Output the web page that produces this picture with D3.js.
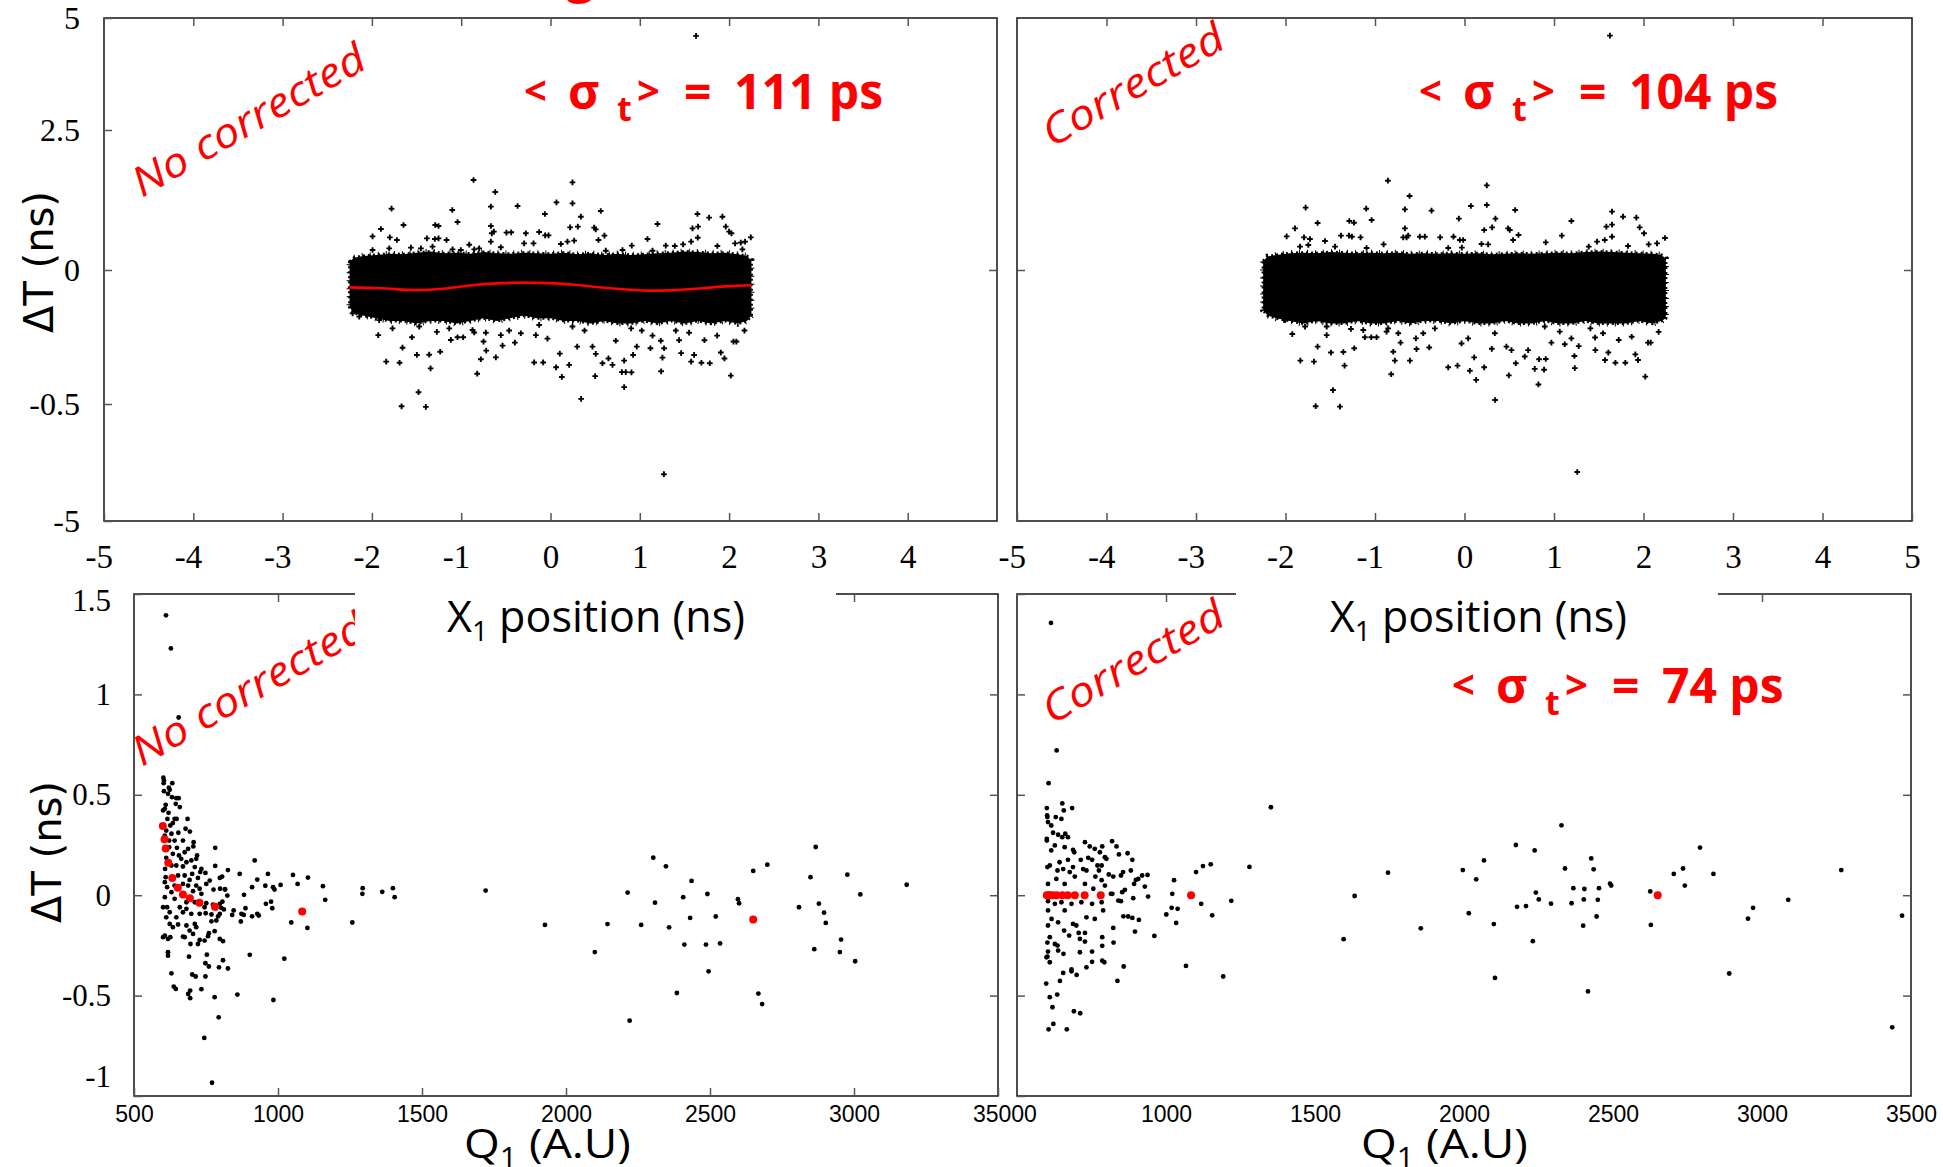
<!DOCTYPE html>
<html><head><meta charset="utf-8">
<script src="https://cdn.jsdelivr.net/npm/d3@7"></script>
<style>html,body{margin:0;padding:0;background:#fff;} svg{display:block;}</style>
</head><body>
<script>
// ---------------- DATA ----------------
const xTicksTop = [-5,-4,-3,-2,-1,0,1,2,3,4,5];
const xLabelsTopLeft = [-5,-4,-3,-2,-1,0,1,2,3,4];
const yTicksTop = [5,2.5,0,-0.5,-5];
const qTicks = [500,1000,1500,2000,2500,3000,3500];
const dtTicksBottom = [1.5,1,0.5,0,-0.5,-1];

// dense band (core envelope) of X1 position vs dT, top panels
const bandX = [-2.25,-2.2,-2.1,-1.95,-1.8,-1.65,-1.5,-1.35,-1.2,-1.05,-0.9,-0.75,-0.6,-0.45,-0.3,-0.15,0,0.15,0.3,0.45,0.6,0.75,0.9,1.05,1.2,1.35,1.5,1.65,1.8,1.95,2.1,2.2,2.25];
const bandTopNC = [0.15,0.22,0.25,0.27,0.29,0.28,0.31,0.33,0.3,0.31,0.29,0.32,0.3,0.29,0.31,0.3,0.29,0.31,0.28,0.3,0.27,0.29,0.27,0.28,0.3,0.31,0.33,0.32,0.3,0.31,0.28,0.25,0.17];
const bandBotNC = [-0.14,-0.16,-0.17,-0.18,-0.19,-0.19,-0.2,-0.19,-0.19,-0.2,-0.19,-0.18,-0.19,-0.18,-0.17,-0.18,-0.18,-0.19,-0.19,-0.2,-0.19,-0.2,-0.2,-0.19,-0.2,-0.19,-0.2,-0.19,-0.2,-0.19,-0.2,-0.19,-0.17];
const bandTopC = [0.16,0.24,0.27,0.3,0.31,0.3,0.32,0.31,0.3,0.31,0.3,0.31,0.29,0.3,0.29,0.3,0.29,0.3,0.28,0.29,0.3,0.29,0.3,0.31,0.3,0.32,0.33,0.32,0.31,0.3,0.29,0.27,0.2];
const bandBotC = [-0.15,-0.17,-0.18,-0.19,-0.2,-0.19,-0.2,-0.2,-0.19,-0.2,-0.2,-0.19,-0.2,-0.19,-0.19,-0.2,-0.19,-0.2,-0.2,-0.19,-0.2,-0.2,-0.19,-0.2,-0.2,-0.19,-0.2,-0.2,-0.2,-0.19,-0.2,-0.19,-0.18];

// red fit curve (uncorrected)
const fitX = [-2.25,-1.9,-1.5,-1.2,-0.9,-0.6,-0.3,0,0.3,0.6,0.9,1.1,1.4,1.7,2.0,2.25];
const fitY = [-0.065,-0.068,-0.075,-0.07,-0.058,-0.05,-0.047,-0.049,-0.056,-0.066,-0.074,-0.077,-0.075,-0.068,-0.06,-0.057];

// sparse events outside the dense band: [X1, dT]
const outNC = [[-0.862,1.607],[-0.619,1.393],[0.246,1.565],[0.067,1.208],[0.246,1.19],[-0.369,1.143],[-1.78,1.095],[-1.10,1.071],[0.34,0.952],[0.563,1.054],[-0.063,1.0],[-1.646,0.804],[-1.041,0.857],[-1.291,0.804],[-1.254,0.786],[-0.668,1.131],[-0.668,0.786],[-1.899,0.732],[0.489,0.756],[0.507,0.726],[0.22,0.762],[0.306,0.774],[1.198,0.821],[1.646,1.0],[1.776,0.935],[1.925,0.952],[1.59,0.744],[1.653,0.774],[1.963,0.774],[2.0,0.685],[2.026,0.655],[2.243,0.583],[1.649,0.577],[-1.993,0.601],[-1.799,0.583],[-1.72,0.536],[-1.384,0.565],[-1.295,0.554],[-1.254,0.565],[-1.164,0.536],[-0.657,0.655],[-0.634,0.685],[-0.493,0.667],[-0.44,0.673],[-0.276,0.655],[-0.127,0.679],[-0.06,0.619],[-0.022,0.619],[0.19,0.506],[0.265,0.524],[0.604,0.613],[0.537,0.536],[1.086,0.554],[0.91,0.435],[2.179,0.506],[2.067,0.476],[1.575,0.506],[1.485,0.458],[1.392,0.429],[-0.91,0.452],[-0.668,0.506],[-0.556,0.405],[-0.295,0.476],[-0.19,0.476],[0.116,0.464],[0.619,0.345],[0.806,0.357],[1.142,0.345],[1.291,0.435],[1.869,0.429],[2.149,0.369],[2.131,0.488],[-1.563,0.399],[-1.451,0.387],[-1.321,0.417],[-1.097,0.369],[-1.004,0.357],[-0.854,0.369],[-1.806,0.387],[-1.993,0.357],[-0.799,0.387],[1.63,4.6],
[-1.929,-0.243],[-1.84,-0.342],[-1.69,-0.346],[-1.496,-0.317],[-1.358,-0.316],[-1.343,-0.367],[-1.552,-0.251],[-1.657,-0.29],[-1.478,-0.456],[-1.668,-0.588],[-1.396,-0.609],[-1.272,-0.231],[-1.235,-0.305],[-1.116,-0.261],[-1.041,-0.251],[-0.978,-0.251],[-0.854,-0.233],[-0.821,-0.387],[-0.78,-0.333],[-0.75,-0.267],[-0.72,-0.301],[-0.612,-0.326],[-0.537,-0.282],[-0.556,-0.243],[-0.399,-0.271],[-0.164,-0.243],[-0.034,-0.256],[-0.183,-0.345],[-0.082,-0.345],[0.063,-0.363],[0.127,-0.399],[0.104,-0.312],[0.209,-0.354],[0.299,-0.286],[0.343,-0.481],[0.381,-0.226],[0.47,-0.286],[0.507,-0.313],[0.5,-0.396],[0.582,-0.348],[0.649,-0.33],[0.694,-0.354],[0.731,-0.264],[0.825,-0.338],[0.799,-0.381],[0.843,-0.381],[0.907,-0.382],[0.825,-0.437],[0.925,-0.317],[0.966,-0.286],[1.119,-0.292],[1.142,-0.245],[1.235,-0.264],[1.254,-0.327],[1.239,-0.378],[1.272,-0.292],[1.44,-0.262],[1.463,-0.31],[1.575,-0.342],[1.608,-0.317],[1.69,-0.346],[1.784,-0.348],[1.724,-0.262],[1.907,-0.308],[1.948,-0.33],[2.019,-0.394],[2.049,-0.267],[2.082,-0.267],[2.172,-0.226],[1.866,-0.245],[1.552,-0.234],[1.403,-0.226],[1.022,-0.226],[0.903,-0.218],[0.246,-0.211],[-0.127,-0.205],[-0.332,-0.236],[-0.463,-0.226],[-0.724,-0.234],[-0.873,-0.224],[-1.134,-0.218],[-1.47,-0.211],[-1.769,-0.218],[-1.918,-0.187],[-2.142,-0.174],[-2.216,-0.162],[1.27,-3.2]];

const outC = [[-0.856,1.595],[-0.614,1.321],[0.249,1.512],[0.071,1.143],[0.249,1.161],[-0.368,1.06],[-1.775,1.113],[-1.098,1.095],[0.346,0.917],[0.566,1.071],[-0.063,0.917],[-1.641,0.839],[-1.038,0.893],[-1.287,0.875],[-1.235,0.845],[-0.666,1.083],[-0.666,0.744],[-1.894,0.744],[0.487,0.744],[0.506,0.714],[0.22,0.714],[0.309,0.762],[1.194,0.875],[1.648,1.042],[1.771,0.952],[1.92,0.935],[1.585,0.774],[1.648,0.81],[1.957,0.762],[2.006,0.655],[2.24,0.571],[1.648,0.595],[-1.987,0.601],[-1.793,0.583],[-1.727,0.554],[-1.38,0.613],[-1.291,0.613],[-1.258,0.595],[-1.161,0.583],[-0.685,0.583],[-0.629,0.613],[-0.499,0.595],[-0.443,0.595],[-0.272,0.583],[-0.123,0.595],[-0.052,0.536],[-0.015,0.536],[0.19,0.464],[0.264,0.458],[0.603,0.625],[0.543,0.536],[1.087,0.613],[0.908,0.494],[2.151,0.476],[2.058,0.458],[1.567,0.536],[1.481,0.506],[1.388,0.417],[-0.904,0.458],[-0.647,0.583],[-0.182,0.393],[-0.03,0.399],[1.827,0.429],[-1.559,0.518],[-1.447,0.417],[-1.094,0.393],[-1.838,0.417],[-1.745,0.446],[1.625,4.607],
[-1.924,-0.239],[-1.834,-0.338],[-1.682,-0.342],[-1.492,-0.308],[-1.354,-0.306],[-1.34,-0.357],[-1.54,-0.243],[-1.641,-0.286],[-1.47,-0.448],[-1.663,-0.585],[-1.392,-0.6],[-1.269,-0.22],[-1.232,-0.292],[-1.113,-0.251],[-1.042,-0.251],[-0.982,-0.251],[-0.871,-0.23],[-0.819,-0.389],[-0.778,-0.338],[-0.714,-0.271],[-0.796,-0.305],[-0.61,-0.338],[-0.536,-0.295],[-0.543,-0.255],[-0.394,-0.289],[-0.182,-0.363],[-0.078,-0.357],[0.06,-0.376],[0.13,-0.41],[0.108,-0.326],[0.22,-0.363],[0.305,-0.294],[0.342,-0.485],[0.469,-0.286],[0.495,-0.393],[0.525,-0.299],[0.573,-0.348],[0.673,-0.323],[0.711,-0.299],[0.785,-0.369],[0.826,-0.427],[0.889,-0.372],[0.833,-0.333],[0.908,-0.332],[0.971,-0.271],[1.12,-0.277],[1.194,-0.255],[1.228,-0.321],[1.232,-0.366],[1.276,-0.284],[1.459,-0.252],[1.462,-0.299],[1.57,-0.336],[1.607,-0.308],[1.686,-0.346],[1.797,-0.346],[1.723,-0.261],[1.909,-0.315],[1.939,-0.336],[2.02,-0.398],[2.05,-0.271],[2.08,-0.271],[2.169,-0.231],[1.868,-0.249],[1.548,-0.236],[1.407,-0.218],[1.064,-0.23],[0.897,-0.211],[0.339,-0.236],[-0.033,-0.274],[0.041,-0.255],[-0.331,-0.218],[-0.461,-0.236],[-0.74,-0.236],[-0.852,-0.218],[-1.131,-0.224],[-1.54,-0.211],[-1.782,-0.211],[-2.006,-0.187],[-2.192,-0.149],[-2.099,-0.168],[1.26,-3.115]];

// Q1 vs dT, bottom panels: [Q1, dT]
const qNC = [[611,1.394],[628,1.229],[655,0.885],
[602,0.585],[604,0.571],[603,0.558],[633,0.558],[621,0.535],[624,0.525],[604,0.518],[618,0.505],[632,0.488],[647,0.483],[655,0.483],[645,0.455],[659,0.439],[610,0.45],[607,0.43],[601,0.422],[620,0.41],[616,0.38],[641,0.38],[648,0.38],[686,0.38],[635,0.359],[626,0.347],[679,0.331],[694,0.317],[654,0.311],[612,0.322],[607,0.297],[622,0.272],[630,0.306],[670,0.272],[641,0.272],[707,0.264],[706,0.243],[622,0.239],[649,0.236],[688,0.231],[676,0.214],[635,0.206],[656,0.198],[719,0.198],[716,0.181],[612,0.186],[664,0.181],[699,0.173],[682,0.164],[630,0.148],[647,0.148],[670,0.143],[711,0.14],[608,0.131],[734,0.131],[748,0.111],[730,0.115],[702,0.106],[610,0.09],[653,0.098],[676,0.098],[763,0.073],[693,0.076],[722,0.086],[607,0.065],[670,0.056],[716,0.048],[751,0.056],[615,0.04],[641,0.048],[688,0.048],[728,0.032],[799,0.032],[816,0.028],[630,0.015],[705,0.02],[734,0.007],[607,-0.01],[641,-0.018],[682,-0.035],[711,-0.035],[751,-0.04],[615,-0.06],[601,-0.06],[659,-0.06],[682,-0.068],[745,-0.06],[803,-0.063],[624,-0.085],[670,-0.085],[699,-0.093],[728,-0.093],[749,-0.09],[769,-0.096],[612,-0.11],[647,-0.11],[624,-0.143],[653,-0.146],[682,-0.151],[711,-0.143],[786,-0.126],[769,-0.13],[635,-0.159],[693,-0.176],[716,-0.159],[607,-0.201],[618,-0.218],[601,-0.209],[670,-0.206],[676,-0.209],[705,-0.193],[626,-0.209],[728,-0.223],[745,-0.226],[760,-0.189],[780,-0.179],[798,-0.218],[809,-0.229],[696,-0.243],[722,-0.243],[757,-0.204],[618,-0.284],[618,-0.301],[691,-0.306],[753,-0.296],[748,-0.339],[760,-0.355],[809,-0.324],[795,-0.359],[826,-0.365],[630,-0.389],[702,-0.395],[714,-0.405],[748,-0.405],[638,-0.455],[645,-0.467],[734,-0.468],[695,-0.475],[688,-0.492],[695,-0.513],[780,-0.508],[794,-0.608],[744,-0.711],[771,-0.934],[859,-0.495],[902,-0.297],[984,-0.522],[1022,-0.316],
[782,0.236],[782,0.146],[826,0.125],[798,0.086],[806,0.093],[867,0.106],[919,0.173],[965,0.106],[928,0.078],[956,0.047],[910,0.04],[983,0.04],[988,0.028],[1052,0.101],[1068,0.056],[1104,0.088],[1009,0.051],[882,0.002],[824,-0.002],[816,0.03],[776,0.028],[1156,0.045],[1164,-0.023],[1294,0.035],[1293,0.007],[1362,0.017],[1399,0.035],[1405,-0.01],[958,-0.043],[976,-0.032],[980,-0.065],[887,-0.065],[873,-0.093],[881,-0.098],[910,-0.105],[928,-0.093],[933,-0.101],[846,-0.076],[841,-0.098],[798,-0.043],[807,-0.032],[812,-0.071],[792,-0.105],[871,-0.131],[1046,-0.136],[1102,-0.163],[1258,-0.136],[785,-0.065],[774,-0.047],[798,-0.093],
[1721,0.023],[1927,-0.148],[2144,-0.144],[2100,-0.283],[2214,0.013],[2221,-0.625],[2261,-0.148],[2303,0.187],[2309,-0.037],[2347,0.144],[2358,-0.16],[2385,-0.487],[2407,-0.01],[2411,-0.246],[2436,0.071],[2431,-0.113],[2491,0.006],[2486,-0.246],[2495,-0.379],[2520,-0.106],[2535,-0.24],[2597,-0.02],[2601,-0.04],[2650,0.121],[2699,0.152],[2668,-0.49],[2681,-0.542],[2809,-0.06],[2849,0.09],[2867,0.24],[2862,-0.269],[2878,-0.042],[2896,-0.087],[2902,-0.138],[2955,-0.221],[2951,-0.283],[2977,0.102],[3004,-0.329],[3022,0.004],[3183,0.052]];

const qC = [[606,0.558],[600,0.434],[652,0.457],[657,0.422],[685,0.434],[601,0.397],[602,0.389],[630,0.389],[649,0.38],[604,0.364],[615,0.347],[621,0.311],[638,0.301],[662,0.306],[671,0.289],[600,0.281],[600,0.272],[652,0.289],[627,0.248],[660,0.239],[615,0.223],[688,0.226],[692,0.214],[728,0.264],[744,0.243],[761,0.231],[778,0.214],[786,0.243],[819,0.269],[834,0.243],[842,0.203],[871,0.209],[887,0.176],[795,0.189],[800,0.181],[739,0.186],[752,0.176],[714,0.176],[671,0.176],[643,0.164],[610,0.148],[602,0.14],[636,0.123],[655,0.13],[688,0.14],[722,0.13],[733,0.123],[770,0.148],[784,0.148],[775,0.123],[808,0.103],[823,0.093],[849,0.098],[856,0.115],[882,0.123],[899,0.076],[893,0.056],[907,0.081],[920,0.098],[938,0.101],[929,0.043],[940,-0.007],[763,0.093],[694,0.093],[677,0.115],[632,0.081],[604,0.056],[660,0.056],[728,0.056],[756,0.032],[784,0.075],[795,0.048],[853,0.015],[862,0.027],[815,0.007],[820,0.007],[604,-0.03],[627,-0.043],[649,-0.035],[683,-0.043],[716,-0.035],[752,-0.043],[784,-0.035],[840,-0.027],[849,-0.03],[890,-0.015],[789,-0.076],[761,-0.118],[733,-0.11],[660,-0.076],[604,-0.076],[616,-0.118],[638,-0.135],[688,-0.143],[699,-0.151],[604,-0.151],[658,-0.176],[675,-0.201],[707,-0.188],[728,-0.188],[786,-0.209],[823,-0.163],[857,-0.105],[873,-0.106],[887,-0.113],[909,-0.123],[896,-0.181],[961,-0.203],[1027,0.075],[1021,0.007],[1039,-0.068],[1019,-0.063],[1001,-0.096],[1034,-0.138],[1101,0.115],[1124,0.145],[1150,0.154],[1118,-0.043],[1155,-0.1],[1219,-0.028],[1280,0.141],[1352,0.438],[1067,-0.352],[1192,-0.405],[610,-0.209],[602,-0.236],[627,-0.243],[636,-0.251],[638,-0.276],[604,-0.281],[602,-0.306],[610,-0.334],[599,-0.309],[656,-0.292],[711,-0.218],[711,-0.284],[728,-0.231],[752,-0.281],[733,-0.359],[752,-0.332],[786,-0.326],[793,-0.334],[824,-0.236],[786,-0.252],[837,-0.427],[858,-0.355],[655,-0.387],[683,-0.37],[683,-0.379],[700,-0.397],[644,-0.427],[598,-0.44],[635,-0.495],[610,-0.508],[619,-0.558],[691,-0.578],[712,-0.588],[622,-0.641],[606,-0.668],[667,-0.668],[614,1.356],[633,0.721],
[1633,-0.004],[1596,-0.219],[1745,0.112],[1855,-0.165],[1996,0.125],[2041,0.079],[2016,-0.09],[2067,0.173],[2100,-0.144],[2104,-0.412],[2174,0.25],[2178,-0.058],[2208,-0.054],[2231,-0.229],[2237,0.223],[2241,0.013],[2251,-0.021],[2292,-0.042],[2327,0.348],[2339,0.133],[2361,-0.04],[2367,0.035],[2400,-0.152],[2402,-0.021],[2404,0.031],[2416,-0.479],[2427,0.183],[2435,0.129],[2445,-0.106],[2449,-0.023],[2453,0.035],[2490,0.058],[2494,0.048],[2625,0.019],[2627,-0.148],[2704,0.106],[2735,0.133],[2741,0.048],[2792,0.237],[2837,0.106],[2890,-0.39],[2953,-0.117],[2970,-0.063],[3088,-0.023],[3266,0.125],[3437,-0.658],[3470,-0.102]];

// red profile points (mean dT per Q1 bin)
const redQ = [600,606,610,619,633,652,670,694,727,781,1084,2650];
const redNC = [0.344,0.279,0.233,0.161,0.086,0.037,0.003,-0.015,-0.037,-0.058,-0.081,-0.121];
const redC = [0,0,0,0,0,0,0,0,0,0,0,0];

// ---------------- DRAW ----------------
const W = 1943, H = 1167;
const svg = d3.select("body").append("svg").attr("width", W).attr("height", H);
svg.append("rect").attr("width", W).attr("height", H).attr("fill", "#fff");

const P = {
  TL: {x0:104, x1:997, y0:18, y1:521},
  TR: {x0:1017, x1:1912, y0:18, y1:521},
  BL: {x0:134, x1:998, y0:594, y1:1096},
  BR: {x0:1017, x1:1911, y0:594, y1:1096}
};
const SERIF = "'Liberation Serif','Times New Roman',serif";
const SANS = "'Liberation Sans',Arial,sans-serif";
const HAND = "'Open Sans','DejaVu Sans',sans-serif";

function styleAxis(g, font, size) {
  g.attr("font-family", font).attr("font-size", size);
  g.select(".domain").remove();
  g.selectAll(".tick line").attr("stroke", "#555").attr("stroke-width", 1.5);
  g.selectAll(".tick text").attr("fill", "#000");
}
function frame(p) {
  svg.append("rect").attr("x", p.x0).attr("y", p.y0).attr("width", p.x1 - p.x0).attr("height", p.y1 - p.y0)
    .attr("fill", "none").attr("stroke", "#222").attr("stroke-width", 1.6);
}

function drawTop(p, bandTop, bandBot, pts, withFit, xLabels, yLeftLabels) {
  const x = d3.scaleLinear().domain([-5, 5]).range([p.x0, p.x1]);
  const y = d3.scaleLinear().domain([-5, -0.5, 0, 2.5, 5]).range([p.y1, 404, 270, 130, p.y0]);
  const g = svg.append("g");
  const band = bandX.map((v, i) => [v, bandTop[i], bandBot[i]]);
  const area = d3.area().x(d => x(d[0])).y0(d => y(d[2])).y1(d => y(d[1]));
  g.append("path").datum(band).attr("d", area).attr("fill", "#000")
    .attr("stroke", "#000").attr("stroke-width", 3).attr("stroke-dasharray", "2 3");
  g.append("path").datum(band).attr("d", area).attr("fill", "none")
    .attr("stroke", "#000").attr("stroke-width", 6).attr("stroke-dasharray", "1 7").attr("stroke-dashoffset", 2);
  g.selectAll(".pt").data(pts).join("path")
    .attr("d", d3.symbol(d3.symbolCross, 18))
    .attr("transform", d => `translate(${x(d[0])},${y(d[1])})`).attr("fill", "#000");
  if (withFit) {
    const line = d3.line().x((d, i) => x(fitX[i])).y(d => y(d)).curve(d3.curveMonotoneX);
    g.append("path").datum(fitY).attr("d", line).attr("fill", "none").attr("stroke", "#ff0000").attr("stroke-width", 2.6);
  }
  frame(p);
  const ax = svg.append("g").attr("transform", `translate(0,${p.y1})`)
    .call(d3.axisBottom(x).tickValues(xLabels).tickSize(-8).tickPadding(24).tickFormat(d => String(d)));
  styleAxis(ax, SERIF, 33);
  ax.selectAll(".tick text").attr("dx", d => d < 0 ? "-0.16em" : 0);
  const axT = svg.append("g").attr("transform", `translate(0,${p.y0})`)
    .call(d3.axisTop(x).tickValues(xTicksTop.slice(1, -1)).tickSize(-8).tickFormat(""));
  styleAxis(axT, SERIF, 33);
  const ayl = svg.append("g").attr("transform", `translate(${p.x0},0)`)
    .call(d3.axisLeft(y).tickValues(yLeftLabels ? yTicksTop : [0]).tickSize(-8).tickPadding(24)
      .tickFormat(d => yLeftLabels ? String(d) : ""));
  styleAxis(ayl, SERIF, 32);
  const ayr = svg.append("g").attr("transform", `translate(${p.x1},0)`)
    .call(d3.axisRight(y).tickValues([0]).tickSize(-8).tickFormat(""));
  styleAxis(ayr, SERIF, 32);
}

function drawBottom(p, pts, redY, clipLeft) {
  const x = d3.scaleLinear().domain([500, 3500]).range([p.x0, p.x1]);
  const y = d3.scaleLinear().domain([-1, 1.5]).range([p.y1, p.y0]);
  const g = svg.append("g");
  g.selectAll(".pt").data(pts).join("circle")
    .attr("cx", d => x(d[0])).attr("cy", d => y(d[1])).attr("r", 2.4).attr("fill", "#000");
  g.selectAll(".red").data(redQ).join("circle")
    .attr("cx", d => x(d)).attr("cy", (d, i) => y(redY[i])).attr("r", 4).attr("fill", "#ff0000");
  frame(p);
  const ax = svg.append("g").attr("transform", `translate(0,${p.y1})`)
    .call(d3.axisBottom(x).tickValues(qTicks).tickSize(-8).tickPadding(10).tickFormat(d => String(d)));
  styleAxis(ax, SANS, 23);
  if (clipLeft) ax.attr("clip-path", "url(#clipBR)");
  const axT = svg.append("g").attr("transform", `translate(0,${p.y0})`)
    .call(d3.axisTop(x).tickValues(qTicks.slice(1, -1)).tickSize(-8).tickFormat(""));
  styleAxis(axT, SANS, 23);
  const ayl = svg.append("g").attr("transform", `translate(${p.x0},0)`)
    .call(d3.axisLeft(y).tickValues(dtTicksBottom).tickSize(-8).tickPadding(23)
      .tickFormat(d => clipLeft ? "" : String(d)));
  styleAxis(ayl, SERIF, 31);
  ayl.selectAll(".tick text").attr("y", d => d === 1.5 ? 7 : (d === -1 ? -19 : 0));
  const ayr = svg.append("g").attr("transform", `translate(${p.x1},0)`)
    .call(d3.axisRight(y).tickValues(dtTicksBottom.slice(1, -1)).tickSize(-8).tickFormat(""));
  styleAxis(ayr, SERIF, 31);
}

const defs = svg.append("defs");
defs.append("clipPath").attr("id", "clipBR").append("rect").attr("x", 1023).attr("y", 0).attr("width", 1000).attr("height", H);

drawTop(P.TL, bandTopNC, bandBotNC, outNC, true, xLabelsTopLeft, true);
drawTop(P.TR, bandTopC, bandBotC, outC, false, xTicksTop, false);
drawBottom(P.BL, qNC, redNC, false);
drawBottom(P.BR, qC, redC, true);

function fitWidth(t, w) {
  const bb = t.node().getBBox();
  const k = w / bb.width;
  t.attr("transform", `translate(${bb.x},0) scale(${k},1) translate(${-bb.x},0)`);
}
function rotatedLabel(x, y, angle, str, size, len) {
  const g = svg.append("g").attr("transform", `translate(${x},${y}) rotate(${angle})`);
  const t = g.append("text").attr("x", 0).attr("y", 0).attr("fill", "#ff0000")
    .attr("font-family", HAND).attr("font-style", "italic").attr("font-size", size).text(str);
  fitWidth(t, len);
}

// red rotated annotations (drawn before the white title boxes so they get clipped like the reference)
rotatedLabel(142, 198, -30, "No corrected", 41, 264);
rotatedLabel(142, 767, -30, "No corrected", 41, 264);
rotatedLabel(1052, 148, -30, "Corrected", 41, 205);
rotatedLabel(1052, 725, -30, "Corrected", 41, 205);

// fragment of red text cut at the top edge
svg.append("text").attr("x", 566).attr("y", -8).attr("fill", "#ff0000").attr("font-family", HAND)
  .attr("font-weight", "bold").attr("font-size", 50).text("g");

// white boxes behind the top x-axis titles (they overlap the lower panels)
svg.append("rect").attr("x", 355).attr("y", 578).attr("width", 481).attr("height", 76).attr("fill", "#fff");
svg.append("rect").attr("x", 1236).attr("y", 578).attr("width", 482).attr("height", 76).attr("fill", "#fff");

function xTitle(x0, yb, w) {
  const t = svg.append("text").attr("x", x0).attr("y", yb).attr("font-family", HAND).attr("font-size", 43).attr("fill", "#000");
  t.append("tspan").text("X");
  t.append("tspan").attr("font-size", 28).attr("dy", 9).text("1");
  t.append("tspan").attr("dy", -9).text(" position (ns)");
  fitWidth(t, w);
}
xTitle(447, 632, 298);
xTitle(1330, 632, 297);

function qTitle(x0, yb, w) {
  const t = svg.append("text").attr("x", x0).attr("y", yb).attr("font-family", HAND).attr("font-size", 41).attr("fill", "#000");
  t.append("tspan").text("Q");
  t.append("tspan").attr("font-size", 27).attr("dy", 9).text("1");
  t.append("tspan").attr("dy", -9).text(" (A.U)");
  fitWidth(t, w);
}
qTitle(464, 1158, 167);
qTitle(1361, 1158, 167);

function yTitle(cx, cy) {
  svg.append("text").attr("transform", `translate(${cx},${cy}) rotate(-90)`)
    .attr("text-anchor", "middle").attr("dominant-baseline", "central")
    .attr("font-family", "'DejaVu Sans',sans-serif").attr("font-size", 40).attr("fill", "#000").text("ΔT (ns)");
}
yTitle(39, 262);
yTitle(47, 852);

function sigma(x, yb, val) {
  const t = svg.append("text").attr("fill", "#ff0000").attr("font-family", HAND)
    .attr("font-weight", "bold").attr("font-size", 48).attr("y", yb);
  t.append("tspan").attr("x", x).attr("font-size", 40).attr("dy", -4).text("<");
  t.append("tspan").attr("x", x + 44).attr("dy", 4).text("σ");
  t.append("tspan").attr("x", x + 93).attr("dy", 12).attr("font-size", 34).text("t");
  t.append("tspan").attr("x", x + 113).attr("dy", -16).attr("font-size", 40).text(">");
  t.append("tspan").attr("x", x + 160).attr("dy", 4).text("=");
  t.append("tspan").attr("x", x + 210).text(val + " ps");
}
sigma(524, 109, "111");
sigma(1419, 109, "104");
sigma(1452, 703, "74");
</script>
</body></html>
